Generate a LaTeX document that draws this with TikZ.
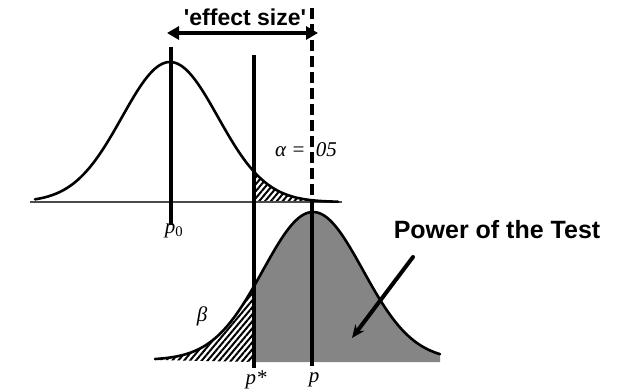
\documentclass[tikz,border=0pt]{standalone}
\usepackage{fontspec}
\setmainfont{Liberation Serif}
\newfontfamily\headfont{Liberation Sans}
\usetikzlibrary{arrows.meta,patterns.meta}
\begin{document}
\begin{tikzpicture}[x=1pt,y=-1pt,
  curveline/.style={line width=2.6pt,line cap=round},
  markline/.style={line width=4pt},
  dashline/.style={line width=4.5pt,dash pattern=on 11pt off 5pt},
  hatchfill/.style={pattern={Lines[angle=50,distance=4.5pt,line width=2pt]},pattern color=black},
  heading/.style={font=\headfont\bfseries\fontsize{23}{26}\selectfont},
  powfont/.style={font=\headfont\bfseries\fontsize{25}{28}\selectfont},
  sym/.style={font=\itshape\fontsize{21}{24}\selectfont}
]
\useasboundingbox (0,0) rectangle (619,391);
% gray area under the bottom curve, right of p*
\fill[black!48] (254,362) -- plot[domain=254:440,samples=80] ({\x},{360-148*exp(-0.5*((\x-313)/50)^2)}) -- (440,362) -- cycle;
% hatched beta region
\fill[hatchfill] (157,360) -- plot[domain=157:254,samples=60] ({\x},{360-148*exp(-0.5*((\x-313)/50)^2)}) -- (254,362) -- cycle;
% hatched alpha region
\fill[hatchfill] (254,202) -- plot[domain=254:338,samples=60] ({\x},{202-140*exp(-0.5*((\x-170)/48)^2)}) -- cycle;
% baseline of the top curve
\coordinate (bl) at (30,202);
\coordinate (br) at (342,202);
\draw[black!70,line width=1.6pt] (bl) -- (br);
% curves
\draw[curveline] plot[domain=35:338,samples=120] ({\x},{202-140*exp(-0.5*((\x-170)/48)^2)});
\draw[curveline] plot[domain=155:440,samples=120] ({\x},{360-148*exp(-0.5*((\x-313)/50)^2)});
% vertical lines
\coordinate (p0t) at (171,47);
\coordinate (p0b) at (171,225);
\coordinate (pst) at (254,55);
\coordinate (psb) at (254,368);
\coordinate (pt) at (312,8);
\coordinate (pm) at (312,206);
\coordinate (pb) at (312,366);
\draw[markline] (p0t) -- (p0b);
\draw[markline] (pst) -- (psb);
\draw[dashline] (pt) -- (pm);
\draw[markline] (pm) -- (pb);
% effect size arrow
\coordinate (el) at (167,33);
\coordinate (er) at (318,33);
\draw[line width=3.5pt,{Triangle[length=12pt,width=13pt]}-{Triangle[length=12pt,width=13pt]}] (el) -- (er);
\node[heading,inner sep=0pt] (eff) at (245,17) {'effect size'};
% power label and pointer
\node[powfont,inner sep=0pt] (pow) at (497,230) {Power of the Test};
\coordinate (at) at (413,257);
\coordinate (ah) at (352,338);
\draw[line width=4pt,line cap=round,-{Stealth[length=13pt,width=11pt]}] (at) -- (ah);
% symbol labels
\node[sym,inner sep=0pt] (alab) at (306,150) {α = .05};
\node[sym,inner sep=0pt] (blab) at (202,316) {β};
\node[sym,inner sep=0pt] (p0lab) at (174,231) {p\textsubscript{\upshape 0}};
\node[sym,inner sep=0pt] (pslab) at (256,380) {p*};
\node[sym,inner sep=0pt] (plab) at (314,380) {p};
\end{tikzpicture}
\end{document}
